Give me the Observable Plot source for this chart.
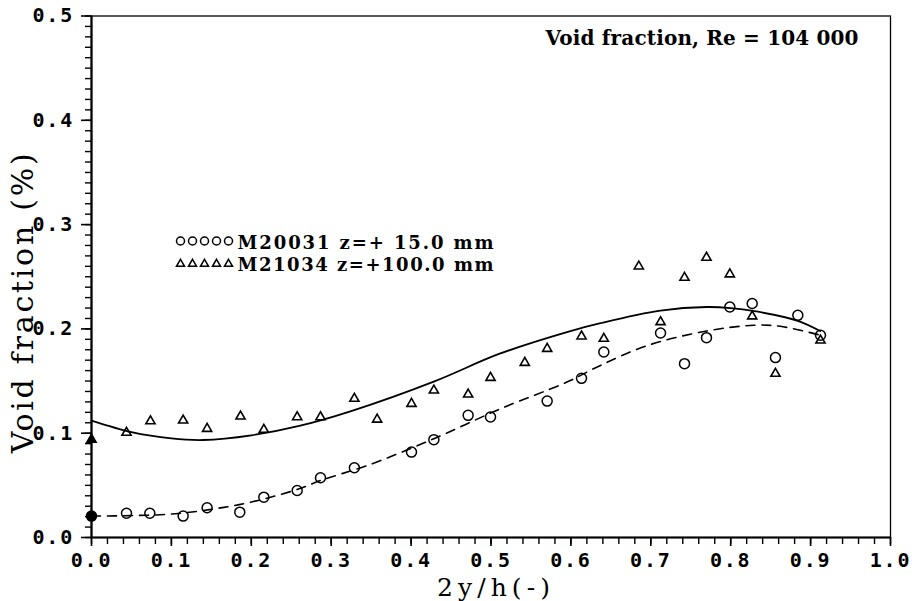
<!DOCTYPE html>
<html><head><meta charset="utf-8">
<script src="https://cdn.jsdelivr.net/npm/d3@7"></script>
<script src="https://cdn.jsdelivr.net/npm/@observablehq/plot@0.6"></script>
<style>
body{margin:0;background:#fff}
g[aria-label="x-axis tick label"] text, g[aria-label="y-axis tick label"] text {letter-spacing:1.8px}
</style></head><body><div id="chart"></div>
<script>
// ---- data ----
const xMajorTicks = [0,0.1,0.2,0.3,0.4,0.5,0.6,0.7,0.8,0.9,1.0];
const xMinorTicks = d3.range(0, 51).map(i => i / 50);
const yMajorTicks = [0,0.1,0.2,0.3,0.4,0.5];
const yMinorTicks = d3.range(0, 51).map(i => i / 100);

// M21034 z=+100.0 mm (triangles)
const triX = [0,0.0438,0.0738,0.1147,0.1447,0.1865,0.2157,0.2574,0.2866,0.329,0.3575,0.4005,0.4285,0.4714,0.4994,0.5423,0.5703,0.6133,0.6412,0.685,0.7122,0.7422,0.7697,0.7989,0.8269,0.856,0.9124];
const triY = [0.094,0.1005,0.1116,0.1123,0.1043,0.1161,0.1034,0.1155,0.1155,0.1331,0.1132,0.1283,0.1411,0.1372,0.1532,0.1676,0.181,0.1929,0.1907,0.26,0.2066,0.2492,0.2684,0.2524,0.2121,0.1571,0.189];

// M20031 z=+ 15.0 mm (circles)
const circX = [0,0.0438,0.073,0.1147,0.1447,0.1856,0.2157,0.2574,0.2866,0.329,0.4005,0.4285,0.4714,0.4994,0.5703,0.6133,0.6412,0.7122,0.7422,0.7697,0.7989,0.8269,0.856,0.884,0.9124];
const circY = [0.0205,0.0233,0.0233,0.0205,0.0285,0.0243,0.0387,0.0451,0.0573,0.0669,0.0819,0.0938,0.1171,0.1155,0.1308,0.1526,0.1778,0.1961,0.1667,0.1916,0.221,0.2243,0.1725,0.213,0.1939];

// fitted curves (solid: triangles, dashed: circles)
const fitTriX = [0,0.05,0.1,0.14,0.2,0.26,0.324,0.43,0.51,0.595,0.637,0.712,0.77,0.80,0.83,0.883,0.912];
const fitTriY = [0.112,0.101,0.095,0.0935,0.098,0.107,0.121,0.150,0.176,0.197,0.2055,0.2175,0.221,0.220,0.217,0.208,0.198];
const fitCircX = [0,0.05,0.1,0.15,0.2,0.26,0.2866,0.345,0.4285,0.512,0.595,0.637,0.6955,0.77,0.829,0.862,0.912];
const fitCircY = [0.0205,0.021,0.0225,0.027,0.034,0.0467,0.0547,0.069,0.0947,0.1235,0.149,0.165,0.184,0.198,0.2035,0.2025,0.194];

const titleText = "Void fraction, Re = 104 000";
const xLabel = "2y/h(-)";
const yLabel = "Void fraction (%)";
const legend1 = "M20031 z=+ 15.0 mm";
const legend2 = "M21034 z=+100.0 mm";

const tri = triX.map((x, i) => ({x, y: triY[i]}));
const circ = circX.map((x, i) => ({x, y: circY[i]}));
const fitTri = fitTriX.map((x, i) => ({x, y: fitTriY[i]}));
const fitCirc = fitCircX.map((x, i) => ({x, y: fitCircY[i]}));

const serif = "DejaVu Serif";
const mono = "DejaVu Sans Mono";

const legendCircles = [0,1,2,3,4].map(i => Plot.dot([0], {frameAnchor: "top-left", dx: 89 + i * 12, dy: 225, r: 4, stroke: "black", strokeWidth: 1.5, fill: "none"}));
const legendTris = [0,1,2,3,4].map(i => Plot.dot([0], {frameAnchor: "top-left", dx: 89 + i * 12, dy: 248, r: 3, symbol: "triangle", stroke: "black", strokeWidth: 1.5, fill: "none"}));

const plot = Plot.plot({
  width: 912, height: 601,
  marginLeft: 91, marginRight: 22, marginTop: 15.5, marginBottom: 64,
  x: {domain: [0, 1]},
  y: {domain: [0, 0.5]},
  style: {background: "white", color: "black"},
  marks: [
    Plot.axisX(xMinorTicks, {tickSize: 7, tickFormat: () => "", strokeWidth: 1.4, label: null}),
    Plot.axisX(xMajorTicks, {tickSize: 9, tickPadding: 6, tickFormat: d => d.toFixed(1), fontSize: 20, fontFamily: mono, fontWeight: "bold", strokeWidth: 1.6, label: null}),
    Plot.axisY(yMinorTicks, {tickSize: 6, tickFormat: () => "", strokeWidth: 1.4, label: null}),
    Plot.axisY(yMajorTicks, {tickSize: 10, tickPadding: 7.5, tickFormat: d => d.toFixed(1), fontSize: 20, fontFamily: mono, fontWeight: "bold", strokeWidth: 1.6, label: null}),
    Plot.frame({stroke: "black", strokeWidth: 1.3}),
    Plot.ruleX([0], {stroke: "black", strokeWidth: 2.2}),
    Plot.ruleY([0], {stroke: "black", strokeWidth: 2.2}),
    Plot.line(fitTri, {x: "x", y: "y", curve: "catmull-rom", stroke: "black", strokeWidth: 1.8}),
    Plot.line(fitCirc, {x: "x", y: "y", curve: "catmull-rom", stroke: "black", strokeWidth: 1.6, strokeDasharray: "9,7"}),
    Plot.dot(tri, {x: "x", y: "y", symbol: "triangle", r: 3.4, stroke: "black", strokeWidth: 1.6, fill: d => d.x === 0 ? "black" : "none"}),
    Plot.dot(circ, {x: "x", y: "y", symbol: "circle", r: 5, stroke: "black", strokeWidth: 1.5, fill: d => d.x === 0 ? "black" : "none"}),
    ...legendCircles,
    ...legendTris,
    Plot.text([legend1], {text: d => d, frameAnchor: "top-left", lineAnchor: "middle", dx: 146, dy: 227, textAnchor: "start", fontSize: 18, fontWeight: "bold", fontFamily: serif}),
    Plot.text([legend2], {text: d => d, frameAnchor: "top-left", lineAnchor: "middle", dx: 146, dy: 249, textAnchor: "start", fontSize: 18, fontWeight: "bold", fontFamily: serif}),
    Plot.text([titleText], {text: d => d, frameAnchor: "top-right", lineAnchor: "middle", dx: -32, dy: 22.5, textAnchor: "end", fontSize: 20, fontWeight: "bold", fontFamily: serif}),
    Plot.text([xLabel], {text: d => d, frameAnchor: "bottom", lineAnchor: "middle", dx: 2.5, dy: 50, textAnchor: "middle", fontSize: 25, fontFamily: serif}),
    Plot.text([yLabel], {text: d => d, frameAnchor: "left", lineAnchor: "middle", dx: -68, dy: 26.5, rotate: -90, textAnchor: "middle", fontSize: 30, fontFamily: serif})
  ]
});

const fitLen = {[titleText]: 313, [yLabel]: 300, [xLabel]: 113, [legend1]: 256, [legend2]: 256};
d3.select(plot).selectAll("text").each(function () {
  const t = this.textContent;
  if (fitLen[t]) { this.setAttribute("textLength", fitLen[t]); this.setAttribute("lengthAdjust", "spacing"); }
});
document.getElementById("chart").append(plot);
</script></body></html>
